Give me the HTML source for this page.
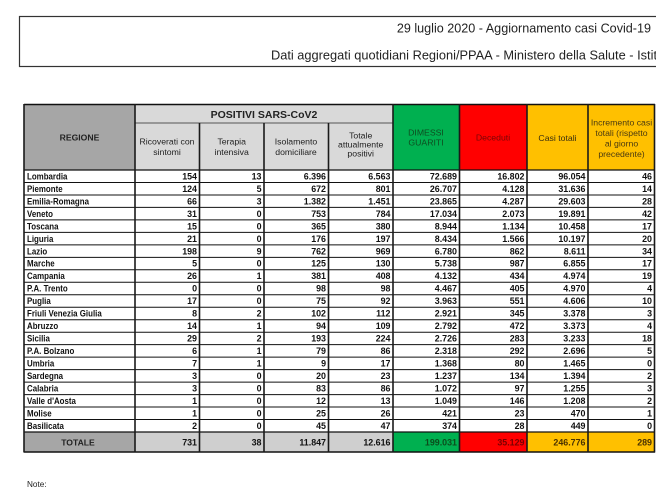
<!DOCTYPE html>
<html><head><meta charset="utf-8"><style>
html,body{margin:0;padding:0;background:#fff;width:656px;height:492px;overflow:hidden}
svg{display:block}
text{font-family:"Liberation Sans",Arial,sans-serif}
.t{font-size:12.6px;fill:#222}
.r{font-size:9px;font-weight:bold;fill:#111}
.v{font-size:8.9px;font-weight:bold;fill:#111;text-anchor:end}
.h{font-size:8.7px;fill:#222;text-anchor:middle}
.hb{font-weight:bold;text-anchor:middle;fill:#222}
</style></head><body>
<svg width="656" height="492" viewBox="0 0 656 492" xmlns="http://www.w3.org/2000/svg">
<rect width="656" height="492" fill="#fff"/>
<!-- title box -->
<rect x="19.5" y="16.5" width="700" height="50" fill="none" stroke="#333" stroke-width="1.2"/>
<text class="t" x="651" y="32.5" text-anchor="end">29 luglio 2020 - Aggiornamento casi Covid-19</text>
<text class="t" x="271" y="59.5" style="font-size:12.8px">Dati aggregati quotidiani Regioni/PPAA - Ministero della Salute - Istituto Superiore di Sanità</text>

<!-- header fills -->
<rect x="24" y="104" width="111" height="66" fill="#a6a6a6"/>
<rect x="135" y="104" width="258" height="66" fill="#d9d9d9"/>
<rect x="393" y="104" width="66.5" height="66" fill="#00b050"/>
<rect x="459.5" y="104" width="67.5" height="66" fill="#ff0000"/>
<rect x="527" y="104" width="127.5" height="66" fill="#ffc000"/>
<!-- total row fills -->
<rect x="24" y="432" width="111" height="20" fill="#a6a6a6"/>
<rect x="135" y="432" width="258" height="20" fill="#cfcfcf"/>
<rect x="393" y="432" width="66.5" height="20" fill="#00b050"/>
<rect x="459.5" y="432" width="67.5" height="20" fill="#ff0000"/>
<rect x="527" y="432" width="127.5" height="20" fill="#ffc000"/>

<!-- header text -->
<text class="hb" x="79.5" y="140.5" font-size="8.6">REGIONE</text>
<text class="hb" x="264" y="117.8" font-size="10.5">POSITIVI SARS-CoV2</text>
<text class="h" x="167" y="144.7">Ricoverati con</text>
<text class="h" x="167" y="155">sintomi</text>
<text class="h" x="231.7" y="144.7">Terapia</text>
<text class="h" x="231.7" y="155">intensiva</text>
<text class="h" x="296" y="144.7">Isolamento</text>
<text class="h" x="296" y="155">domiciliare</text>
<text class="h" x="360.7" y="138.3">Totale</text>
<text class="h" x="360.7" y="147.3">attualmente</text>
<text class="h" x="360.7" y="156.3">positivi</text>
<text class="h" x="426" y="135.7" style="fill:#0e4d20" font-size="8.5">DIMESSI</text>
<text class="h" x="426" y="145.7" style="fill:#0e4d20" font-size="8.5">GUARITI</text>
<text class="h" x="493" y="140.3" style="fill:#7a0505">Deceduti</text>
<text class="h" x="557.5" y="141" style="fill:#3a2e10">Casi totali</text>
<text class="h" x="621.5" y="125.5" style="fill:#4a3a10" font-size="9.1">Incremento casi</text>
<text class="h" x="621.5" y="136" style="fill:#4a3a10" font-size="9.1">totali (rispetto</text>
<text class="h" x="621.5" y="146.5" style="fill:#4a3a10" font-size="9.1">al giorno</text>
<text class="h" x="621.5" y="157" style="fill:#4a3a10" font-size="9.1">precedente)</text>

<!-- data rows -->
<g transform="translate(0,170)"><text class="r" transform="translate(27,9.4) scale(0.88,1)">Lombardia</text><text class="v" x="197" y="9.4">154</text><text class="v" x="261.5" y="9.4">13</text><text class="v" x="326" y="9.4">6.396</text><text class="v" x="390.5" y="9.4">6.563</text><text class="v" x="457" y="9.4">72.689</text><text class="v" x="524.5" y="9.4">16.802</text><text class="v" x="585.5" y="9.4">96.054</text><text class="v" x="652" y="9.4">46</text></g>
<g transform="translate(0,182.48)"><text class="r" transform="translate(27,9.4) scale(0.88,1)">Piemonte</text><text class="v" x="197" y="9.4">124</text><text class="v" x="261.5" y="9.4">5</text><text class="v" x="326" y="9.4">672</text><text class="v" x="390.5" y="9.4">801</text><text class="v" x="457" y="9.4">26.707</text><text class="v" x="524.5" y="9.4">4.128</text><text class="v" x="585.5" y="9.4">31.636</text><text class="v" x="652" y="9.4">14</text></g>
<g transform="translate(0,194.95)"><text class="r" transform="translate(27,9.4) scale(0.88,1)">Emilia-Romagna</text><text class="v" x="197" y="9.4">66</text><text class="v" x="261.5" y="9.4">3</text><text class="v" x="326" y="9.4">1.382</text><text class="v" x="390.5" y="9.4">1.451</text><text class="v" x="457" y="9.4">23.865</text><text class="v" x="524.5" y="9.4">4.287</text><text class="v" x="585.5" y="9.4">29.603</text><text class="v" x="652" y="9.4">28</text></g>
<g transform="translate(0,207.43)"><text class="r" transform="translate(27,9.4) scale(0.88,1)">Veneto</text><text class="v" x="197" y="9.4">31</text><text class="v" x="261.5" y="9.4">0</text><text class="v" x="326" y="9.4">753</text><text class="v" x="390.5" y="9.4">784</text><text class="v" x="457" y="9.4">17.034</text><text class="v" x="524.5" y="9.4">2.073</text><text class="v" x="585.5" y="9.4">19.891</text><text class="v" x="652" y="9.4">42</text></g>
<g transform="translate(0,219.9)"><text class="r" transform="translate(27,9.4) scale(0.88,1)">Toscana</text><text class="v" x="197" y="9.4">15</text><text class="v" x="261.5" y="9.4">0</text><text class="v" x="326" y="9.4">365</text><text class="v" x="390.5" y="9.4">380</text><text class="v" x="457" y="9.4">8.944</text><text class="v" x="524.5" y="9.4">1.134</text><text class="v" x="585.5" y="9.4">10.458</text><text class="v" x="652" y="9.4">17</text></g>
<g transform="translate(0,232.38)"><text class="r" transform="translate(27,9.4) scale(0.88,1)">Liguria</text><text class="v" x="197" y="9.4">21</text><text class="v" x="261.5" y="9.4">0</text><text class="v" x="326" y="9.4">176</text><text class="v" x="390.5" y="9.4">197</text><text class="v" x="457" y="9.4">8.434</text><text class="v" x="524.5" y="9.4">1.566</text><text class="v" x="585.5" y="9.4">10.197</text><text class="v" x="652" y="9.4">20</text></g>
<g transform="translate(0,244.86)"><text class="r" transform="translate(27,9.4) scale(0.88,1)">Lazio</text><text class="v" x="197" y="9.4">198</text><text class="v" x="261.5" y="9.4">9</text><text class="v" x="326" y="9.4">762</text><text class="v" x="390.5" y="9.4">969</text><text class="v" x="457" y="9.4">6.780</text><text class="v" x="524.5" y="9.4">862</text><text class="v" x="585.5" y="9.4">8.611</text><text class="v" x="652" y="9.4">34</text></g>
<g transform="translate(0,257.33)"><text class="r" transform="translate(27,9.4) scale(0.88,1)">Marche</text><text class="v" x="197" y="9.4">5</text><text class="v" x="261.5" y="9.4">0</text><text class="v" x="326" y="9.4">125</text><text class="v" x="390.5" y="9.4">130</text><text class="v" x="457" y="9.4">5.738</text><text class="v" x="524.5" y="9.4">987</text><text class="v" x="585.5" y="9.4">6.855</text><text class="v" x="652" y="9.4">17</text></g>
<g transform="translate(0,269.81)"><text class="r" transform="translate(27,9.4) scale(0.88,1)">Campania</text><text class="v" x="197" y="9.4">26</text><text class="v" x="261.5" y="9.4">1</text><text class="v" x="326" y="9.4">381</text><text class="v" x="390.5" y="9.4">408</text><text class="v" x="457" y="9.4">4.132</text><text class="v" x="524.5" y="9.4">434</text><text class="v" x="585.5" y="9.4">4.974</text><text class="v" x="652" y="9.4">19</text></g>
<g transform="translate(0,282.28)"><text class="r" transform="translate(27,9.4) scale(0.88,1)">P.A. Trento</text><text class="v" x="197" y="9.4">0</text><text class="v" x="261.5" y="9.4">0</text><text class="v" x="326" y="9.4">98</text><text class="v" x="390.5" y="9.4">98</text><text class="v" x="457" y="9.4">4.467</text><text class="v" x="524.5" y="9.4">405</text><text class="v" x="585.5" y="9.4">4.970</text><text class="v" x="652" y="9.4">4</text></g>
<g transform="translate(0,294.76)"><text class="r" transform="translate(27,9.4) scale(0.88,1)">Puglia</text><text class="v" x="197" y="9.4">17</text><text class="v" x="261.5" y="9.4">0</text><text class="v" x="326" y="9.4">75</text><text class="v" x="390.5" y="9.4">92</text><text class="v" x="457" y="9.4">3.963</text><text class="v" x="524.5" y="9.4">551</text><text class="v" x="585.5" y="9.4">4.606</text><text class="v" x="652" y="9.4">10</text></g>
<g transform="translate(0,307.24)"><text class="r" transform="translate(27,9.4) scale(0.88,1)">Friuli Venezia Giulia</text><text class="v" x="197" y="9.4">8</text><text class="v" x="261.5" y="9.4">2</text><text class="v" x="326" y="9.4">102</text><text class="v" x="390.5" y="9.4">112</text><text class="v" x="457" y="9.4">2.921</text><text class="v" x="524.5" y="9.4">345</text><text class="v" x="585.5" y="9.4">3.378</text><text class="v" x="652" y="9.4">3</text></g>
<g transform="translate(0,319.71)"><text class="r" transform="translate(27,9.4) scale(0.88,1)">Abruzzo</text><text class="v" x="197" y="9.4">14</text><text class="v" x="261.5" y="9.4">1</text><text class="v" x="326" y="9.4">94</text><text class="v" x="390.5" y="9.4">109</text><text class="v" x="457" y="9.4">2.792</text><text class="v" x="524.5" y="9.4">472</text><text class="v" x="585.5" y="9.4">3.373</text><text class="v" x="652" y="9.4">4</text></g>
<g transform="translate(0,332.19)"><text class="r" transform="translate(27,9.4) scale(0.88,1)">Sicilia</text><text class="v" x="197" y="9.4">29</text><text class="v" x="261.5" y="9.4">2</text><text class="v" x="326" y="9.4">193</text><text class="v" x="390.5" y="9.4">224</text><text class="v" x="457" y="9.4">2.726</text><text class="v" x="524.5" y="9.4">283</text><text class="v" x="585.5" y="9.4">3.233</text><text class="v" x="652" y="9.4">18</text></g>
<g transform="translate(0,344.66)"><text class="r" transform="translate(27,9.4) scale(0.88,1)">P.A. Bolzano</text><text class="v" x="197" y="9.4">6</text><text class="v" x="261.5" y="9.4">1</text><text class="v" x="326" y="9.4">79</text><text class="v" x="390.5" y="9.4">86</text><text class="v" x="457" y="9.4">2.318</text><text class="v" x="524.5" y="9.4">292</text><text class="v" x="585.5" y="9.4">2.696</text><text class="v" x="652" y="9.4">5</text></g>
<g transform="translate(0,357.14)"><text class="r" transform="translate(27,9.4) scale(0.88,1)">Umbria</text><text class="v" x="197" y="9.4">7</text><text class="v" x="261.5" y="9.4">1</text><text class="v" x="326" y="9.4">9</text><text class="v" x="390.5" y="9.4">17</text><text class="v" x="457" y="9.4">1.368</text><text class="v" x="524.5" y="9.4">80</text><text class="v" x="585.5" y="9.4">1.465</text><text class="v" x="652" y="9.4">0</text></g>
<g transform="translate(0,369.62)"><text class="r" transform="translate(27,9.4) scale(0.88,1)">Sardegna</text><text class="v" x="197" y="9.4">3</text><text class="v" x="261.5" y="9.4">0</text><text class="v" x="326" y="9.4">20</text><text class="v" x="390.5" y="9.4">23</text><text class="v" x="457" y="9.4">1.237</text><text class="v" x="524.5" y="9.4">134</text><text class="v" x="585.5" y="9.4">1.394</text><text class="v" x="652" y="9.4">2</text></g>
<g transform="translate(0,382.09)"><text class="r" transform="translate(27,9.4) scale(0.88,1)">Calabria</text><text class="v" x="197" y="9.4">3</text><text class="v" x="261.5" y="9.4">0</text><text class="v" x="326" y="9.4">83</text><text class="v" x="390.5" y="9.4">86</text><text class="v" x="457" y="9.4">1.072</text><text class="v" x="524.5" y="9.4">97</text><text class="v" x="585.5" y="9.4">1.255</text><text class="v" x="652" y="9.4">3</text></g>
<g transform="translate(0,394.57)"><text class="r" transform="translate(27,9.4) scale(0.88,1)">Valle d'Aosta</text><text class="v" x="197" y="9.4">1</text><text class="v" x="261.5" y="9.4">0</text><text class="v" x="326" y="9.4">12</text><text class="v" x="390.5" y="9.4">13</text><text class="v" x="457" y="9.4">1.049</text><text class="v" x="524.5" y="9.4">146</text><text class="v" x="585.5" y="9.4">1.208</text><text class="v" x="652" y="9.4">2</text></g>
<g transform="translate(0,407.04)"><text class="r" transform="translate(27,9.4) scale(0.88,1)">Molise</text><text class="v" x="197" y="9.4">1</text><text class="v" x="261.5" y="9.4">0</text><text class="v" x="326" y="9.4">25</text><text class="v" x="390.5" y="9.4">26</text><text class="v" x="457" y="9.4">421</text><text class="v" x="524.5" y="9.4">23</text><text class="v" x="585.5" y="9.4">470</text><text class="v" x="652" y="9.4">1</text></g>
<g transform="translate(0,419.52)"><text class="r" transform="translate(27,9.4) scale(0.88,1)">Basilicata</text><text class="v" x="197" y="9.4">2</text><text class="v" x="261.5" y="9.4">0</text><text class="v" x="326" y="9.4">45</text><text class="v" x="390.5" y="9.4">47</text><text class="v" x="457" y="9.4">374</text><text class="v" x="524.5" y="9.4">28</text><text class="v" x="585.5" y="9.4">449</text><text class="v" x="652" y="9.4">0</text></g>

<!-- total row -->
<g transform="translate(0,432)">
<text class="hb" x="78" y="13.5" font-size="8.6">TOTALE</text>
<text class="v" x="197" y="13.5">731</text><text class="v" x="261.5" y="13.5">38</text><text class="v" x="326" y="13.5">11.847</text><text class="v" x="390.5" y="13.5">12.616</text>
<text class="v" x="457" y="13.5" style="fill:#0b4d1c">199.031</text>
<text class="v" x="524.5" y="13.5" style="fill:#7a0000">35.129</text>
<text class="v" x="585.5" y="13.5" style="fill:#4a3200">246.776</text>
<text class="v" x="652" y="13.5" style="fill:#4a3200">289</text>
</g>

<!-- horizontal lines -->
<g stroke="#111" stroke-width="1">
<line x1="24" y1="104.5" x2="655" y2="104.5" stroke-width="1.4"/>
<line x1="135" y1="123" x2="393" y2="123" stroke="#555"/>
<line x1="24" y1="170" x2="655" y2="170" stroke-width="1.3"/>
<line x1="24" y1="182.48" x2="655" y2="182.48"/>
<line x1="24" y1="194.95" x2="655" y2="194.95"/>
<line x1="24" y1="207.43" x2="655" y2="207.43"/>
<line x1="24" y1="219.9" x2="655" y2="219.9"/>
<line x1="24" y1="232.38" x2="655" y2="232.38"/>
<line x1="24" y1="244.86" x2="655" y2="244.86"/>
<line x1="24" y1="257.33" x2="655" y2="257.33"/>
<line x1="24" y1="269.81" x2="655" y2="269.81"/>
<line x1="24" y1="282.28" x2="655" y2="282.28"/>
<line x1="24" y1="294.76" x2="655" y2="294.76"/>
<line x1="24" y1="307.24" x2="655" y2="307.24"/>
<line x1="24" y1="319.71" x2="655" y2="319.71"/>
<line x1="24" y1="332.19" x2="655" y2="332.19"/>
<line x1="24" y1="344.66" x2="655" y2="344.66"/>
<line x1="24" y1="357.14" x2="655" y2="357.14"/>
<line x1="24" y1="369.62" x2="655" y2="369.62"/>
<line x1="24" y1="382.09" x2="655" y2="382.09"/>
<line x1="24" y1="394.57" x2="655" y2="394.57"/>
<line x1="24" y1="407.04" x2="655" y2="407.04"/>
<line x1="24" y1="419.52" x2="655" y2="419.52"/>
<line x1="24" y1="432" x2="655" y2="432" stroke-width="1.3"/>
<line x1="24" y1="452" x2="655" y2="452" stroke-width="1.5"/>
</g>
<!-- vertical lines -->
<g stroke="#1a1a1a" stroke-width="1.6">
<line x1="24" y1="104" x2="24" y2="452.5"/>
<line x1="135" y1="104" x2="135" y2="452.5"/>
<line x1="199.5" y1="123" x2="199.5" y2="452.5"/>
<line x1="264" y1="123" x2="264" y2="452.5"/>
<line x1="328.5" y1="123" x2="328.5" y2="452.5"/>
<line x1="393" y1="104" x2="393" y2="452.5"/>
<line x1="459.5" y1="104" x2="459.5" y2="452.5"/>
<line x1="527" y1="104" x2="527" y2="452.5"/>
<line x1="588" y1="104" x2="588" y2="452.5"/>
<line x1="654.5" y1="104" x2="654.5" y2="452.5"/>
</g>

<text x="27" y="487" font-size="8.2" fill="#222">Note:</text>
</svg>
</body></html>
